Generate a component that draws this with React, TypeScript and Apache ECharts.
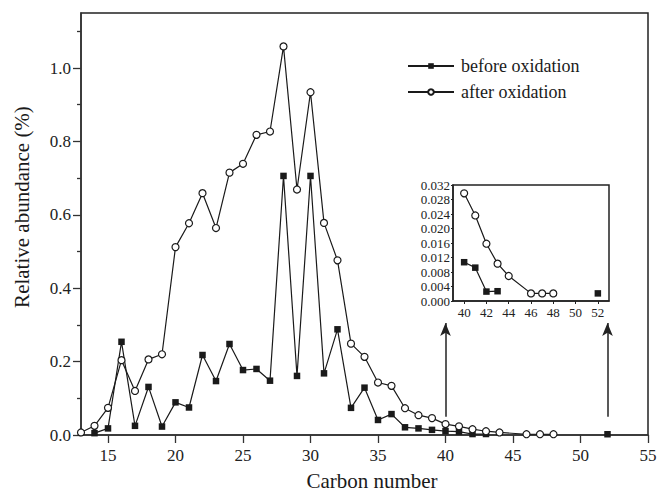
import React, { useEffect, useRef } from "react";
import * as echarts from "echarts";

const carbonBefore = [14, 15, 16, 17, 18, 19, 20, 21, 22, 23, 24, 25, 26, 27, 28, 29, 30, 31, 32, 33, 34, 35, 36, 37, 38, 39, 40, 41, 42, 43, 48, 52];
const valuesBefore: (number | string)[] = [0.005, 0.018, 0.254, 0.025, 0.131, 0.023, 0.089, 0.075, 0.218, 0.147, 0.248, 0.177, 0.180, 0.148, 0.706, 0.161, 0.706, 0.168, 0.288, 0.074, 0.129, 0.041, 0.057, 0.021, 0.018, 0.014, 0.0107, 0.0092, 0.0026, 0.0027, "-", 0.0021];

const carbonAfter = [13, 14, 15, 16, 17, 18, 19, 20, 21, 22, 23, 24, 25, 26, 27, 28, 29, 30, 31, 32, 33, 34, 35, 36, 37, 38, 39, 40, 41, 42, 43, 44, 46, 47, 48];
const valuesAfter = [0.007, 0.025, 0.074, 0.204, 0.12, 0.206, 0.22, 0.512, 0.577, 0.659, 0.564, 0.715, 0.739, 0.818, 0.827, 1.059, 0.669, 0.934, 0.578, 0.476, 0.249, 0.213, 0.143, 0.134, 0.073, 0.054, 0.046, 0.0297, 0.0236, 0.0158, 0.0103, 0.0069, 0.0021, 0.0021, 0.0021];

const insetCarbonBefore = [40, 41, 42, 43, 48, 52];
const insetValuesBefore: (number | string)[] = [0.0107, 0.0092, 0.0026, 0.0027, "-", 0.0021];
const insetCarbonAfter = [40, 41, 42, 43, 44, 46, 47, 48];
const insetValuesAfter = [0.0297, 0.0236, 0.0158, 0.0103, 0.0069, 0.0021, 0.0021, 0.0021];

const xTicks = [15, 20, 25, 30, 35, 40, 45, 50, 55];
const yTicks = [0, 0.2, 0.4, 0.6, 0.8, 1.0];
const yMinorTicks = [0.1, 0.3, 0.5, 0.7, 0.9, 1.1];
const insetXTicks = [40, 42, 44, 46, 48, 50, 52];
const arrowCarbons = [40, 52];
const arrowRange = [0.05, 0.305];

const FONT = "Liberation Serif";
const INK = "#1a1a1a";

export default function App() {
  const ref = useRef<HTMLDivElement>(null);
  useEffect(() => {
    if (!ref.current) return;
    const chart = echarts.init(ref.current, null, { renderer: "svg" });
    const pair = (xs: number[], ys: (number | string)[]) => xs.map((x, i) => [x, ys[i]]);
    const lineCommon = {
      type: "line",
      lineStyle: { color: INK, width: 1.2 },
      connectNulls: false,
    };
    const beforeStyle = { symbol: "rect", symbolSize: 6.5, itemStyle: { color: INK, borderColor: INK, borderWidth: 0 } };
    const afterStyle = { symbol: "circle", symbolSize: 7, itemStyle: { color: "#fff", borderColor: INK, borderWidth: 1.2 } };
    chart.setOption({
      animation: false,
      backgroundColor: "#fff",
      textStyle: { fontFamily: FONT },
      grid: [
        { left: 81, right: 13, top: 13, bottom: 61, show: true, borderColor: "#222", borderWidth: 1.5, backgroundColor: "transparent" },
        { left: 453, top: 185, width: 156, height: 116, show: true, borderColor: "#222", borderWidth: 1.5, backgroundColor: "#fff" },
      ],
      legend: {
        orient: "vertical",
        left: 407,
        top: 57,
        padding: 0,
        itemWidth: 46,
        itemHeight: 7,
        itemGap: 8,
        textStyle: { fontFamily: FONT, fontSize: 18, color: INK, padding: [0, 0, 0, 2] },
        data: ["before oxidation", "after oxidation"],
      },
      xAxis: [
        {
          type: "value",
          gridIndex: 0,
          min: 13,
          max: 55,
          splitLine: { show: false },
          axisLine: { lineStyle: { color: "#333", width: 1.5 } },
          axisTick: { customValues: xTicks, length: 8, lineStyle: { color: "#333", width: 1.3 } },
          axisLabel: { customValues: xTicks, fontFamily: FONT, fontSize: 17, color: "#222", margin: 12 },
        },
        {
          type: "value",
          gridIndex: 1,
          min: 39,
          max: 53,
          splitLine: { show: false },
          axisLine: { lineStyle: { color: "#222", width: 1.5 } },
          axisTick: { customValues: insetXTicks, length: 3, lineStyle: { color: "#222" } },
          axisLabel: { customValues: insetXTicks, fontFamily: FONT, fontSize: 13, color: "#222", margin: 5 },
        },
      ],
      yAxis: [
        {
          type: "value",
          gridIndex: 0,
          min: 0,
          max: 1.15,
          splitLine: { show: false },
          axisLine: { show: true, lineStyle: { color: "#333", width: 1.5 } },
          axisTick: { customValues: yTicks, length: 8, lineStyle: { color: "#333", width: 1.3 } },
          axisLabel: { customValues: yTicks, fontFamily: FONT, fontSize: 17, color: "#222", margin: 10, formatter: (v: number) => v.toFixed(1) },
        },
        {
          type: "value",
          gridIndex: 0,
          min: 0,
          max: 1.15,
          position: "left",
          splitLine: { show: false },
          axisLine: { show: false },
          axisTick: { customValues: yMinorTicks, length: 4, lineStyle: { color: "#333", width: 1.3 } },
          axisLabel: { show: false },
        },
        {
          type: "value",
          gridIndex: 1,
          min: 0,
          max: 0.032,
          interval: 0.004,
          splitLine: { show: false },
          axisLine: { show: true, lineStyle: { color: "#222", width: 1.5 } },
          axisTick: { length: 2, lineStyle: { color: "#222" } },
          axisLabel: { fontFamily: FONT, fontSize: 13, color: "#222", margin: 3, formatter: (v: number) => v.toFixed(3) },
        },
      ],
      series: [
        {
          ...lineCommon,
          ...beforeStyle,
          name: "before oxidation",
          xAxisIndex: 0,
          yAxisIndex: 0,
          data: pair(carbonBefore, valuesBefore),
          markLine: {
            silent: true,
            symbol: ["none", "arrow"],
            symbolSize: [8, 13],
            label: { show: false },
            lineStyle: { color: "#222", width: 1.5, type: "solid" },
            data: arrowCarbons.map((c) => [{ coord: [c, arrowRange[0]] }, { coord: [c, arrowRange[1]] }]),
          },
        },
        {
          ...lineCommon,
          ...afterStyle,
          name: "after oxidation",
          xAxisIndex: 0,
          yAxisIndex: 0,
          data: pair(carbonAfter, valuesAfter),
        },
        {
          ...lineCommon,
          ...beforeStyle,
          name: "before oxidation",
          xAxisIndex: 1,
          yAxisIndex: 2,
          data: pair(insetCarbonBefore, insetValuesBefore),
        },
        {
          ...lineCommon,
          ...afterStyle,
          name: "after oxidation",
          xAxisIndex: 1,
          yAxisIndex: 2,
          data: pair(insetCarbonAfter, insetValuesAfter),
        },
      ],
      graphic: [
        {
          type: "text",
          x: 372,
          y: 481,
          style: { text: "Carbon number", fontFamily: FONT, fontSize: 21, fill: INK, textAlign: "center", textVerticalAlign: "middle" },
        },
        {
          type: "text",
          x: 22,
          y: 207,
          rotation: Math.PI / 2,
          style: { text: "Relative abundance (%)", fontFamily: FONT, fontSize: 21, fill: INK, textAlign: "center", textVerticalAlign: "middle" },
        },
      ],
    });
    return () => chart.dispose();
  }, []);
  return <div ref={ref} style={{ width: 661, height: 496, position: "absolute", left: 0, top: 0 }} />;
}
